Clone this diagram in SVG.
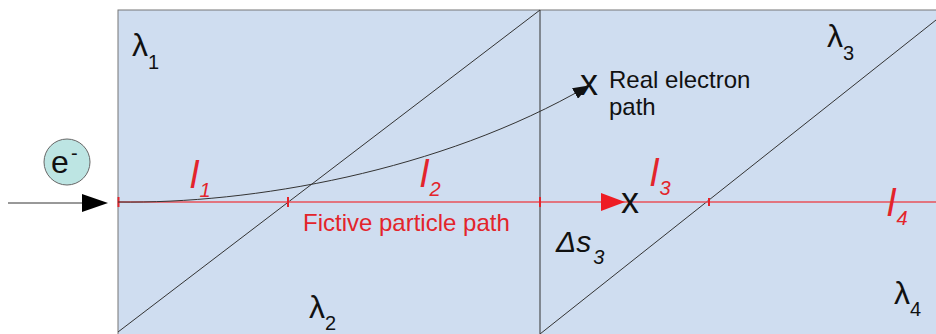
<svg xmlns="http://www.w3.org/2000/svg" width="936" height="334" viewBox="0 0 936 334">
<defs>
<style>
.lbl{font-family:"Liberation Sans",Arial,sans-serif}
.red{fill:#e3242b}
.blk{fill:#111}
.thin{stroke:#333;stroke-width:1;fill:none}
.lam{font-size:32px}
.lsub{font-size:20px}
.ell{font-size:38px;font-style:italic}
.esub{font-size:20px;font-style:italic}
</style>
<marker id="ah" markerWidth="16" markerHeight="12" refX="15" refY="6" orient="auto" markerUnits="userSpaceOnUse"><path d="M0,0 L16,6 L0,12 Z" fill="#111"/></marker>
</defs>
<rect width="936" height="334" fill="#fff"/>
<g id="region">
<rect x="118" y="10" width="830" height="340" fill="#cfddf0" stroke="#777" stroke-width="1"/>
<line x1="540" y1="10" x2="540" y2="334" class="thin"/>
<line x1="118" y1="332" x2="540" y2="10" class="thin"/>
<line x1="540" y1="334" x2="936" y2="20" class="thin"/>
</g>
<g id="electron">
<circle cx="67" cy="162" r="23" fill="#bde5e3" stroke="#666" stroke-width="1"/>
<text x="51" y="173" class="lbl blk" font-size="32">e</text>
<text x="71" y="160" class="lbl blk" font-size="20">-</text>
</g>
<g id="connectors">
<line x1="8" y1="203" x2="84" y2="203" stroke="#333" stroke-width="1"/>
<path d="M82,194 L108,203 L82,212 Z" fill="#000"/>
<line x1="118" y1="202" x2="936" y2="202" stroke="#e8505a" stroke-width="1.3"/>
<g stroke="#e3242b" stroke-width="2">
<line x1="118.5" y1="197" x2="118.5" y2="207"/>
<line x1="288" y1="197" x2="288" y2="207"/>
<line x1="540" y1="197" x2="540" y2="207"/>
<line x1="709" y1="198" x2="709" y2="206"/>
</g>
<path d="M601,193 L625,202 L601,211 Z" fill="#ee1c24"/>
<path d="M118,202 C250,204 440,172 588,86" class="thin" marker-end="url(#ah)"/>
</g>
<g id="marks">
<text x="621" y="213" class="lbl blk" font-size="36">x</text>
<text x="580" y="95" class="lbl blk" font-size="36">x</text>
</g>
<g id="labels">
<text x="609" y="88" class="lbl blk" font-size="24">Real electron</text>
<text x="609" y="115" class="lbl blk" font-size="24">path</text>
<text x="303" y="231" class="lbl" font-size="24" fill="#e3242b">Fictive particle path</text>
<text x="556" y="252" class="lbl blk" font-size="30" font-style="italic">Δs<tspan dx="2" dy="12" font-size="20">3</tspan></text>
<text x="190" y="188" class="lbl red ell">l<tspan dx="1" dy="9" class="esub">1</tspan></text>
<text x="420" y="187" class="lbl red ell">l<tspan dx="1" dy="9" class="esub">2</tspan></text>
<text x="650" y="186" class="lbl red ell">l<tspan dx="1" dy="9" class="esub">3</tspan></text>
<text x="887" y="216" class="lbl red ell">l<tspan dx="1" dy="9" class="esub">4</tspan></text>
<text x="132" y="56" class="lbl blk lam">λ<tspan dy="13" class="lsub">1</tspan></text>
<text x="309" y="318" class="lbl blk lam">λ<tspan dy="12" class="lsub">2</tspan></text>
<text x="827" y="47" class="lbl blk lam">λ<tspan dy="13" class="lsub">3</tspan></text>
<text x="894" y="304" class="lbl blk lam">λ<tspan dy="12" class="lsub">4</tspan></text>
</g>
</svg>
